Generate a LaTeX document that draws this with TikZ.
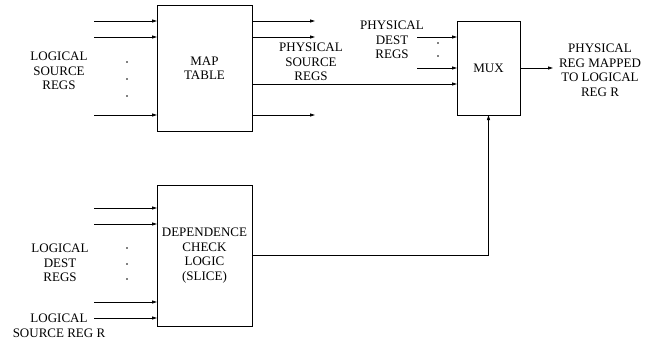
\documentclass[tikz,border=0pt]{standalone}
\usepackage{fontspec}
\setmainfont{Liberation Serif}
\usetikzlibrary{arrows.meta}
\tikzset{
  rename diagram/.style={
    x=1pt, y=-1pt, line width=0.8pt,
    >={Triangle[length=5pt,width=3pt]},
    every node/.style={font=\fontsize{13}{14.5}\selectfont,
      text=black, inner sep=0pt, outer sep=0pt}
  },
  logic block/.style={draw, align=center, line width=0.9pt},
  reg label/.style={align=center}
}
\newcommand{\RenameDots}[4]{%
  \foreach \dy in {#2,#3,#4} \fill (#1,\dy) circle (0.8pt);
}

\begin{document}
\begin{tikzpicture}[rename diagram]
    \useasboundingbox (0,0) rectangle (658,346);
    % blocks
    \node[logic block, minimum width=95pt, minimum height=126pt] (maptbl) at (204.5,68) {MAP\\TABLE};
    \node[logic block, minimum width=63pt, minimum height=94pt] (mux) at (488.5,68) {MUX};
    \node[logic block, minimum width=95pt, minimum height=141pt] (depchk) at (204.5,255.5) {DEPENDENCE\\CHECK\\LOGIC\\(SLICE)};
    % map table inputs and outputs
    \foreach \y [count=\i] in {21,37,115} {
      \coordinate (lsrc\i) at (94,\y);
      \coordinate (psrc\i) at (315,\y);
      \draw[->] (lsrc\i) -- (lsrc\i -| maptbl.west);
      \draw[->] (psrc\i -| maptbl.east) -- (psrc\i);
    }
    \coordinate (psrcr) at (252,84);
    \draw[->] (psrcr -| maptbl.east) -- (psrcr -| mux.west);
    \RenameDots{127}{62}{79}{96}
    \node[reg label] (lsrclbl) at (59,71) {LOGICAL\\SOURCE\\REGS};
    \node[reg label] (psrclbl) at (311,62) {PHYSICAL\\SOURCE\\REGS};
    % mux inputs and output
    \foreach \y [count=\i] in {37,68} {
      \coordinate (pdst\i) at (417,\y);
      \draw[->] (pdst\i) -- (pdst\i -| mux.west);
    }
    \fill (438,43) circle (0.8pt);
    \fill (438,56) circle (0.8pt);
    \node[reg label] (pdstlbl) at (392,40) {PHYSICAL\\DEST\\REGS};
    \coordinate (pregout) at (553,68);
    \draw[->] (mux.east) -- (pregout);
    \node[reg label] (preglbl) at (600,70.5) {PHYSICAL\\REG MAPPED\\TO LOGICAL\\REG R};
    % dependence check inputs
    \foreach \y [count=\i] in {208,224,302,318} {
      \coordinate (ldst\i) at (94,\y);
      \draw[->] (ldst\i) -- (ldst\i -| depchk.west);
    }
    \RenameDots{127}{248}{264}{279}
    \node[reg label] (ldstlbl) at (60,263) {LOGICAL\\DEST\\REGS};
    \node[reg label] (lsrcrlbl) at (59,326) {LOGICAL\\SOURCE REG R};
    % select line
    \draw[->] (depchk.east) -| (mux.south);
\end{tikzpicture}
\end{document}
